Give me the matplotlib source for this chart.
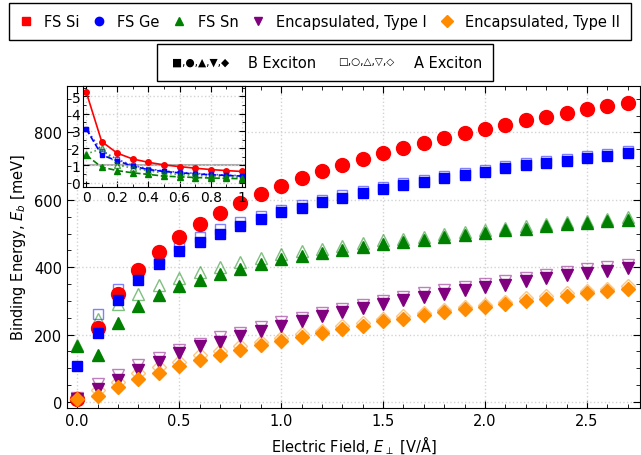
import numpy as np
import matplotlib
matplotlib.use("Agg")
import matplotlib.pyplot as plt
from matplotlib.ticker import MultipleLocator, FixedLocator
from matplotlib.legend_handler import HandlerBase
from matplotlib.text import Text
from matplotlib.lines import Line2D

# electric field values [V/A]
field = [round(0.1 * i, 1) for i in range(28)]

si_b = [8, 221, 321, 393, 446, 490, 529, 561, 591, 618, 642, 664, 685, 704,
        721, 740, 754, 770, 784, 798, 810, 823, 836, 847, 859, 869, 879, 889]
ge_b = [108, 206, 304, 363, 410, 447, 476, 499, 523, 544, 563, 577, 593, 606,
        621, 633, 644, 654, 666, 674, 684, 694, 702, 710, 716, 725, 731, 740]
ge_a = [10, 260, 336, 387, 423, 462, 490, 512, 535, 553, 570, 585, 600, 613,
        627, 639, 650, 660, 672, 680, 690, 700, 708, 716, 722, 731, 737, 746]
sn_b = [165, 139, 235, 285, 318, 344, 363, 380, 396, 411, 423, 433, 443, 452,
        460, 470, 475, 481, 489, 497, 502, 509, 514, 521, 527, 531, 536, 541]
sn_a = [170, 247, 292, 321, 348, 369, 386, 400, 415, 427, 438, 447, 455, 463,
        471, 480, 485, 491, 498, 505, 510, 517, 522, 528, 534, 538, 543, 548]
t1_b = [8, 37, 65, 94, 119, 144, 165, 178, 197, 212, 226, 240, 255, 267,
        279, 290, 302, 312, 321, 331, 341, 348, 358, 368, 376, 384, 390, 398]
t1_a = [12, 52, 81, 109, 131, 153, 173, 193, 206, 223, 238, 250, 265, 277,
        289, 300, 312, 322, 331, 341, 351, 358, 368, 378, 386, 394, 400, 408]
t2_b = [8, 17, 45, 67, 87, 107, 124, 139, 155, 168, 182, 194, 205, 218,
        226, 240, 247, 257, 267, 275, 282, 291, 301, 307, 315, 323, 329, 336]
t2_a = [12, 35, 60, 85, 103, 120, 138, 152, 165, 177, 190, 202, 212, 225,
        233, 247, 254, 264, 274, 282, 289, 298, 308, 314, 322, 330, 336, 343]

# inset
field_in = [round(0.1 * i, 1) for i in range(11)]
si_in = [5.27, 2.38, 1.71, 1.37, 1.18, 1.03, 0.93, 0.84, 0.76, 0.70, 0.65]
ge_in_b = [3.12, 1.60, 1.27, 0.95, 0.76, 0.65, 0.57, 0.51, 0.46, 0.42, 0.38]
ge_in_a = [3.12, 1.85, 1.35, 1.00, 0.80, 0.68, 0.60, 0.54, 0.48, 0.44, 0.40]
sn_in_b = [1.60, 0.90, 0.70, 0.57, 0.48, 0.38, 0.34, 0.30, 0.27, 0.25, 0.23]
sn_in_a = [1.65, 1.98, 1.03, 0.84, 0.69, 0.55, 0.48, 0.42, 0.38, 0.34, 0.30]

labels = ["FS Si", "FS Ge", "FS Sn", "Encapsulated, Type I", "Encapsulated, Type II"]
colors = ["red", "blue", "green", "purple", "darkorange"]
legend_markers = ["s", "o", "^", "v", "D"]

plt.rcParams["font.family"] = "DejaVu Sans"
plt.rcParams["font.size"] = 10

fig = plt.figure(figsize=(6.41, 4.56), dpi=100)
ax = fig.add_axes([67 / 641, 47 / 456, 573 / 641, 322 / 456])

# open markers (A exciton)
ax.plot(field, ge_a, "s", ms=7, mfc="none", mec="blue", mew=1, alpha=0.5, ls="none")
ax.plot(field, sn_a, "^", ms=8, mfc="none", mec="green", mew=1, alpha=0.5, ls="none")
ax.plot(field, t1_a, "v", ms=8, mfc="none", mec="purple", mew=1, alpha=0.5, ls="none")
ax.plot(field, t2_a, "D", ms=7, mfc="none", mec="darkorange", mew=1, alpha=0.5, ls="none")

# filled markers (B exciton)
ax.plot(field, si_b, "o", ms=10, color="red", ls="none")
ax.plot(field, ge_b, "s", ms=7, color="blue", ls="none")
ax.plot(field, sn_b, "^", ms=8, color="green", ls="none")
ax.plot(field, t1_b, "v", ms=8, color="purple", ls="none")
ax.plot(field, t2_b, "D", ms=7, color="darkorange", ls="none")

ax.set_xlim(-0.05, 2.76)
ax.set_ylim(-18, 938)
ax.xaxis.set_major_locator(MultipleLocator(0.5))
ax.xaxis.set_minor_locator(MultipleLocator(0.1))
ax.yaxis.set_major_locator(MultipleLocator(200))
ax.yaxis.set_minor_locator(MultipleLocator(50))
ax.tick_params(which="both", direction="in", top=True, right=True, labelsize=10.5)
ax.tick_params(which="major", length=5)
ax.tick_params(which="minor", length=3)
ax.grid(True, which="major", color="lightgrey", linestyle=":", linewidth=1)
ax.set_xlabel("Electric Field, $E_{\\perp}$ [V/Å]", fontsize=10.5)
ax.set_ylabel("Binding Energy, $E_b$ [meV]", fontsize=10.5)

# legends above the plot
handles = [Line2D([], [], marker=m, color=c, ls="none", ms=6)
           for m, c in zip(legend_markers, colors)]
leg1 = fig.legend(handles, labels, loc="upper left", bbox_to_anchor=(9 / 641, 1 - 4 / 456),
                  ncol=5, fancybox=False, edgecolor="black", framealpha=1, fontsize=10.5,
                  handletextpad=0.85, columnspacing=0.95, handlelength=0.8, borderpad=0.75,
                  borderaxespad=0)
leg1.get_frame().set_linewidth(1)


class SymbolHandler(HandlerBase):
    def create_artists(self, legend, orig_handle, xdescent, ydescent, width, height, fontsize, trans):
        t = Text(width / 2 - xdescent, height / 2 - ydescent, orig_handle.get_text(),
                 fontsize=orig_handle.get_fontsize(), ha="center", va="center", transform=trans)
        return [t]


sym_b = Text(text="■,●,▲,▼,◆", fontsize=7.7)
sym_a = Text(text="□,○,△,▽,◇", fontsize=7.5)
leg2 = fig.legend([sym_b, sym_a], ["B Exciton", "A Exciton"], loc="upper left",
                  bbox_to_anchor=(157 / 641, 1 - 45 / 456), ncol=2, fontsize=10.5,
                  handler_map={Text: SymbolHandler()}, handlelength=4.5,
                  fancybox=False, edgecolor="black", framealpha=1,
                  handletextpad=1.0, columnspacing=1.2, borderpad=0.75, borderaxespad=0)
leg2.get_frame().set_linewidth(1)

# inset
axin = fig.add_axes([83 / 641, 1 - 188 / 456, 162 / 641, 101 / 456])
axin.axhline(1, color="darkgrey", lw=1.5, zorder=0)
axin.plot(field_in, si_in, "-", marker="o", ms=4, color="red", lw=1.2)
axin.plot(field_in, ge_in_b, "--", marker="s", ms=3.5, color="blue", lw=1.2)
axin.plot(field_in, ge_in_a, ":", marker="s", ms=3.5, mfc="none", color="blue", lw=1.2, alpha=0.7)
axin.plot(field_in, sn_in_b, "--", marker="^", ms=4, color="green", lw=1.2)
axin.plot(field_in, sn_in_a, ":", marker="^", ms=4, mfc="none", color="green", lw=1.2, alpha=0.7)
axin.set_xlim(-0.02, 1.02)
axin.set_ylim(-0.25, 5.6)
axin.xaxis.set_major_locator(FixedLocator([0, 0.2, 0.4, 0.6, 0.8, 1.0]))
axin.set_xticklabels(["0", "0.2", "0.4", "0.6", "0.8", "1"])
axin.yaxis.set_major_locator(MultipleLocator(1))
axin.xaxis.set_minor_locator(MultipleLocator(0.1))
axin.yaxis.set_minor_locator(MultipleLocator(0.5))
axin.tick_params(which="both", direction="in", top=True, right=True, labelsize=10, pad=2)
axin.tick_params(which="major", length=4)
axin.tick_params(which="minor", length=2)
axin.grid(True, which="major", color="lightgrey", linestyle=":", linewidth=1)

fig.savefig("out.png", dpi=100)
